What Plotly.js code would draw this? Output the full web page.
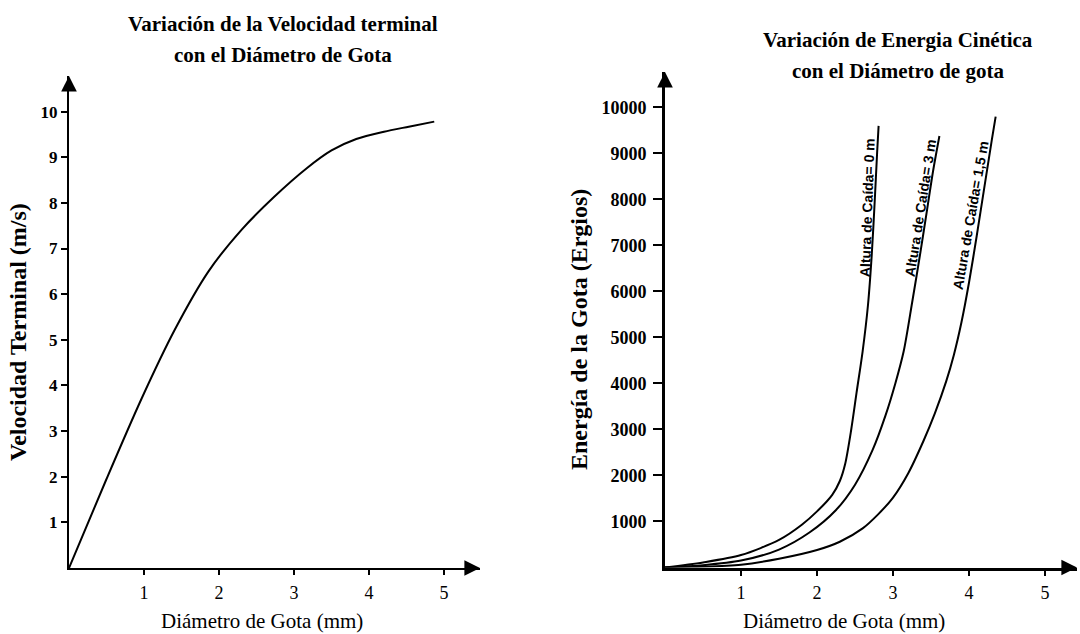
<!DOCTYPE html>
<html><head><meta charset="utf-8">
<script src="https://cdn.plot.ly/plotly-3.0.1.min.js"></script>
<style>html,body{margin:0;padding:0;background:#fff}</style>
</head><body><div id="chart" style="width:1080px;height:634px"></div>
<script>
// ---- Left chart: terminal velocity vs drop diameter ----
const velDiam = [0, 0.5, 0.97, 1.41, 1.86, 2.30, 2.74, 3.17, 3.5, 3.83, 4.2, 4.53, 4.87];
const velTerm = [0, 1.95, 3.72, 5.22, 6.50, 7.41, 8.14, 8.76, 9.15, 9.40, 9.56, 9.67, 9.78];

// ---- Right chart: kinetic energy vs drop diameter (three fall heights) ----
const enDiam0 = [0, 0.5, 1.0, 1.5, 1.8, 2.0, 2.2, 2.3, 2.37, 2.45, 2.52, 2.6, 2.67, 2.72, 2.76, 2.79, 2.81];
const enVal0  = [0, 110, 270, 600, 930, 1220, 1580, 1880, 2250, 3000, 3800, 4700, 5700, 6800, 8000, 9000, 9600];
const enDiam3 = [0, 0.5, 1.0, 1.5, 1.9, 2.25, 2.5, 2.73, 2.9, 3.03, 3.14, 3.25, 3.36, 3.45, 3.53, 3.61];
const enVal3  = [0, 50, 150, 390, 760, 1250, 1800, 2550, 3300, 4000, 4700, 5750, 6850, 7800, 8650, 9380];
const enDiam15 = [0, 0.5, 1.0, 1.5, 2.0, 2.3, 2.6, 2.8, 3.0, 3.2, 3.4, 3.55, 3.7, 3.8, 3.9, 4.0, 4.1, 4.2, 4.3, 4.35];
const enVal15  = [0, 15, 60, 190, 380, 560, 850, 1150, 1520, 2050, 2750, 3350, 4050, 4620, 5330, 6200, 7200, 8250, 9300, 9800];

const leftYTicks = [1,2,3,4,5,6,7,8,9,10];
const rightYTicks = [1000,2000,3000,4000,5000,6000,7000,8000,9000,10000];
const xTicks = [1,2,3,4,5];

const leftTitle = ['Variación de la Velocidad terminal', 'con el Diámetro de Gota'];
const rightTitle = ['Variación de Energia Cinética', 'con el Diámetro de gota'];
const xTitle = 'Diámetro de Gota (mm)';
const leftYTitle = 'Velocidad Terminal (m/s)';
const rightYTitle = 'Energía de la Gota (Ergios)';
const curveLabels = ['Altura de Caída= 0 m', 'Altura de Caída= 3 m', 'Altura de Caída= 1,5 m'];

const SERIF = 'Liberation Serif';
const SANS = 'Liberation Sans';
const W = 1080, H = 634;
const px = v => v / W;
const py = v => 1 - v / H;

function lineStyle() { return {color: '#000', width: 2, shape: 'spline', smoothing: 0.8}; }
const traces = [
  {x: velDiam, y: velTerm, xaxis: 'x', yaxis: 'y', mode: 'lines', line: lineStyle(), hoverinfo: 'skip'},
  {x: enDiam0, y: enVal0, xaxis: 'x2', yaxis: 'y2', mode: 'lines', line: lineStyle(), hoverinfo: 'skip'},
  {x: enDiam3, y: enVal3, xaxis: 'x2', yaxis: 'y2', mode: 'lines', line: lineStyle(), hoverinfo: 'skip'},
  {x: enDiam15, y: enVal15, xaxis: 'x2', yaxis: 'y2', mode: 'lines', line: lineStyle(), hoverinfo: 'skip'}
];

const L = {x0: 69, x1: 480, y0: 568, y1: 76, xr: [0, 5.48], yr: [0, 10.78]};
const R = {x0: 665, x1: 1077, y0: 567.5, y1: 72, xr: [0, 5.42], yr: [0, 10770]};

function baseAxis(extra) {
  return Object.assign({showgrid: false, zeroline: false, fixedrange: true, color: '#000'}, extra);
}
function font(family, size, bold) {
  const f = {family: family, size: size, color: '#000'};
  if (bold) f.weight = 'bold';
  return f;
}

const layout = {
  width: W, height: H,
  margin: {l: 0, r: 0, t: 0, b: 0},
  paper_bgcolor: '#fff', plot_bgcolor: '#fff',
  showlegend: false,
  xaxis: baseAxis({domain: [px(L.x0), px(L.x1)], range: L.xr, anchor: 'y', showline: true, linewidth: 2, linecolor: '#000',
    ticks: 'outside', ticklen: 5, tickwidth: 2, tickcolor: '#000', tickvals: xTicks, tickfont: font(SERIF, 18), ticklabelstandoff: 2}),
  yaxis: baseAxis({domain: [py(L.y0), py(L.y1)], range: L.yr, anchor: 'x', showline: true, linewidth: 2, linecolor: '#000',
    ticks: 'outside', ticklen: 6, tickwidth: 2, tickcolor: '#000', tickvals: leftYTicks, tickfont: font(SERIF, 17, true)}),
  xaxis3: baseAxis({overlaying: 'x', anchor: 'y', side: 'bottom', range: L.xr, showline: false,
    ticks: 'inside', ticklen: 11, tickwidth: 2, tickcolor: '#000', tickvals: xTicks, showticklabels: false}),
  yaxis3: baseAxis({overlaying: 'y', anchor: 'x', side: 'left', range: L.yr, showline: false,
    ticks: 'inside', ticklen: 9, tickwidth: 2, tickcolor: '#000', tickvals: leftYTicks, showticklabels: false}),
  xaxis2: baseAxis({domain: [px(R.x0), px(R.x1)], range: R.xr, anchor: 'y2', showline: true, linewidth: 3, linecolor: '#000',
    ticks: 'outside', ticklen: 5, tickwidth: 2, tickcolor: '#000', tickvals: xTicks, tickfont: font(SERIF, 18), ticklabelstandoff: 2}),
  yaxis2: baseAxis({domain: [py(R.y0), py(R.y1)], range: R.yr, anchor: 'x2', showline: true, linewidth: 3, linecolor: '#000',
    ticks: 'outside', ticklen: 9, tickwidth: 2, tickcolor: '#000', tickvals: rightYTicks, tickformat: 'd',
    tickfont: font(SERIF, 18, true), ticklabelstandoff: 3}),
  xaxis4: baseAxis({overlaying: 'x2', anchor: 'y2', side: 'bottom', range: R.xr, showline: false,
    ticks: 'inside', ticklen: 12, tickwidth: 2, tickcolor: '#000', tickvals: xTicks, showticklabels: false}),
  yaxis4: baseAxis({overlaying: 'y2', anchor: 'x2', side: 'left', range: R.yr, showline: false,
    ticks: 'inside', ticklen: 9, tickwidth: 2, tickcolor: '#000', tickvals: rightYTicks, showticklabels: false}),
  annotations: []
};

const ann = layout.annotations;
function txt(text, x, y, f, angle) {
  ann.push({text: text, x: px(x), y: py(y), xref: 'paper', yref: 'paper', showarrow: false,
    xanchor: 'center', yanchor: 'middle', textangle: angle || 0, font: f});
}
txt(leftTitle[0], 283, 24, font(SERIF, 21, true));
txt(leftTitle[1], 283, 55, font(SERIF, 21, true));
txt(rightTitle[0], 898, 40, font(SERIF, 21, true));
txt(rightTitle[1], 898, 71, font(SERIF, 21, true));
txt(xTitle, 262, 621, font(SERIF, 21));
txt(xTitle, 844, 621, font(SERIF, 21));
txt(leftYTitle, 18, 332, font(SERIF, 24, true), -90);
txt(rightYTitle, 579, 330, font(SERIF, 24, true), -90);

// arrowheads at the ends of the axes
function arrowHead(xr, yr, x, y, ax, ay) {
  ann.push({text: '', xref: xr + ' domain', yref: yr + ' domain', x: x, y: y, ax: ax, ay: ay,
    showarrow: true, arrowhead: 2, arrowsize: 1.3, arrowwidth: 2.4, arrowcolor: '#000', standoff: 0});
}
arrowHead('x', 'y', 1, 0, -14, 0);
arrowHead('x', 'y', 0, 1, 0, 14);
arrowHead('x2', 'y2', 1, 0, -14, 0);
arrowHead('x2', 'y2', 0, 1, 0, 14);

// curve labels (placed in data coordinates of the right chart)
const labPos = [[2.66, 7815, -88], [3.36, 7815, -81], [4.02, 7663, -80]];
labPos.forEach((p, i) => {
  ann.push({text: curveLabels[i], x: p[0], y: p[1], xref: 'x2', yref: 'y2', showarrow: false,
    xanchor: 'center', yanchor: 'middle', textangle: p[2], font: font(SANS, 14, true)});
});

Plotly.newPlot('chart', traces, layout, {staticPlot: true, displayModeBar: false});
</script>
</body></html>
